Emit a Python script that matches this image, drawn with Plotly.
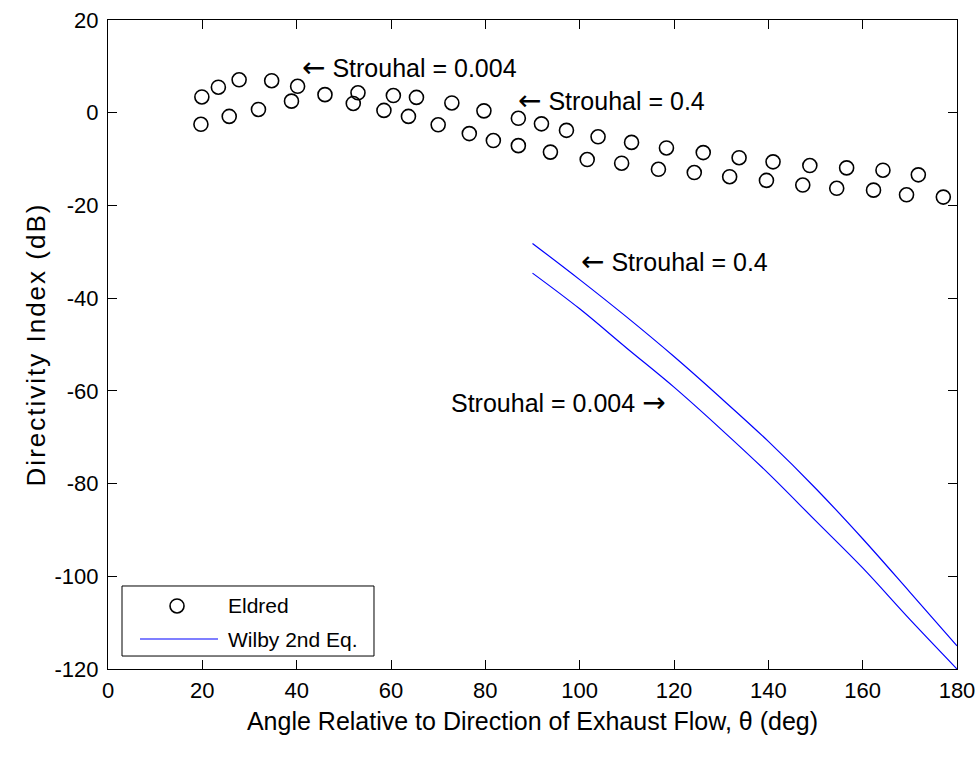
import plotly.graph_objects as go

# Eldred measured directivity index (dB) vs. angle (deg), two rows of points
eldred_upper_theta = [19.9, 23.4, 27.8, 34.7, 40.2, 46.0, 53.0, 60.5, 65.4, 72.9, 79.7, 87.0,
                      91.9, 97.2, 103.9, 111.0, 118.4, 126.2, 133.8, 141.0, 148.8, 156.6, 164.3, 171.8]
eldred_upper_di = [3.4, 5.5, 7.1, 6.9, 5.7, 3.9, 4.3, 3.7, 3.3, 2.1, 0.4, -1.2,
                   -2.4, -3.8, -5.2, -6.4, -7.6, -8.6, -9.7, -10.6, -11.4, -11.9, -12.4, -13.4]
eldred_lower_theta = [19.7, 25.7, 31.9, 38.9, 52.0, 58.5, 63.7, 70.0, 76.6, 81.7, 87.0, 93.8,
                      101.6, 108.9, 116.7, 124.3, 131.8, 139.6, 147.3, 154.5, 162.3, 169.3, 177.1]
eldred_lower_di = [-2.5, -0.8, 0.7, 2.5, 2.0, 0.5, -0.8, -2.6, -4.5, -6.0, -7.1, -8.5,
                   -10.1, -10.9, -12.2, -12.9, -13.8, -14.6, -15.6, -16.3, -16.7, -17.7, -18.2]

# Wilby 2nd equation curves
wilby_theta = [90, 100, 110, 120, 130, 140, 150, 160, 170, 180]
wilby_st04 = [-28.2, -36.0, -44.1, -52.6, -61.6, -70.9, -81.0, -91.9, -103.4, -115.0]
wilby_st0004 = [-34.6, -42.3, -50.8, -59.2, -68.3, -77.8, -88.0, -98.2, -109.3, -120.0]

x_ticks = list(range(0, 181, 20))
y_ticks = list(range(-120, 21, 20))

FONT = "Liberation Sans, Arial, sans-serif"
BLUE = "#0000FF"
LEFT_ARROW = '<span style="font-family:DejaVu Sans;font-size:28px">\u2190</span>'
RIGHT_ARROW = '<span style="font-family:DejaVu Sans;font-size:28px">\u2192</span>'

fig = go.Figure()

marker_style = dict(symbol="circle-open", size=14, color="black", line=dict(color="black", width=1.6))
fig.add_trace(go.Scatter(x=eldred_upper_theta, y=eldred_upper_di, mode="markers",
                         marker=marker_style, name="Eldred", showlegend=False))
fig.add_trace(go.Scatter(x=eldred_lower_theta, y=eldred_lower_di, mode="markers",
                         marker=marker_style, name="Eldred", showlegend=False))
fig.add_trace(go.Scatter(x=wilby_theta, y=wilby_st04, mode="lines", line_shape="spline",
                         line=dict(color=BLUE, width=1.2), name="Wilby 2nd Eq.", showlegend=False))
fig.add_trace(go.Scatter(x=wilby_theta, y=wilby_st0004, mode="lines", line_shape="spline",
                         line=dict(color=BLUE, width=1.2), name="Wilby 2nd Eq.", showlegend=False))

ann_font = dict(family=FONT, size=25, color="black")
annotations = [
    dict(x=40.7, y=9.7, text=LEFT_ARROW + " Strouhal = 0.004", xanchor="left"),
    dict(x=86.6, y=2.7, text=LEFT_ARROW + " Strouhal = 0.4", xanchor="left"),
    dict(x=99.9, y=-32.0, text=LEFT_ARROW + " Strouhal = 0.4", xanchor="left"),
    dict(x=118.8, y=-62.5, text="Strouhal = 0.004 " + RIGHT_ARROW, xanchor="right"),
]
for a in annotations:
    fig.add_annotation(xref="x", yref="y", showarrow=False, yanchor="middle", font=ann_font, **a)

# Legend box drawn in paper coordinates
leg_x0, leg_x1, leg_y0, leg_y1 = 0.0165, 0.3133, 0.0200, 0.1279
fig.add_shape(type="rect", xref="paper", yref="paper", x0=leg_x0, x1=leg_x1, y0=leg_y0, y1=leg_y1,
              line=dict(color="black", width=1), fillcolor="white", layer="above")
fig.add_shape(type="circle", xref="paper", yref="paper", xsizemode="pixel", ysizemode="pixel",
              xanchor=0.0813, yanchor=0.0971, x0=-7, x1=7, y0=-7, y1=7,
              line=dict(color="black", width=1.6), layer="above")
fig.add_shape(type="line", xref="paper", yref="paper", x0=0.0377, x1=0.1296, y0=0.0462, y1=0.0462,
              line=dict(color=BLUE, width=1.2), layer="above")
leg_font = dict(family=FONT, size=21, color="black")
fig.add_annotation(xref="paper", yref="paper", x=0.1390, y=0.0971, text="Eldred", showarrow=False,
                   xanchor="left", yanchor="middle", font=leg_font)
fig.add_annotation(xref="paper", yref="paper", x=0.1390, y=0.0462, text="Wilby 2nd Eq.", showarrow=False,
                   xanchor="left", yanchor="middle", font=leg_font)

axis_common = dict(showline=True, linecolor="black", linewidth=1, mirror="ticks",
                   ticks="inside", ticklen=9, tickwidth=1, tickcolor="black",
                   showgrid=False, zeroline=False,
                   tickfont=dict(family=FONT, size=22, color="black"))

fig.update_xaxes(range=[0, 180], tickvals=x_ticks, ticktext=[str(v) for v in x_ticks],
                 ticklabelstandoff=2,
                 title=dict(text="Angle Relative to Direction of Exhaust Flow, \u03b8 (deg)",
                            font=dict(family=FONT, size=25, color="black"), standoff=10),
                 **axis_common)
fig.update_yaxes(range=[-120, 20], tickvals=y_ticks, ticktext=[str(v) for v in y_ticks],
                 ticklabelstandoff=4,
                 title=dict(text='<span style="letter-spacing:2px">Directivity Index (dB)</span>',
                            font=dict(family=FONT, size=26, color="black"), standoff=1),
                 **axis_common)

fig.update_layout(width=979, height=762, margin=dict(l=108, r=22, t=20, b=93, autoexpand=False),
                  paper_bgcolor="white", plot_bgcolor="white", showlegend=False)

fig.write_html("out.html")
